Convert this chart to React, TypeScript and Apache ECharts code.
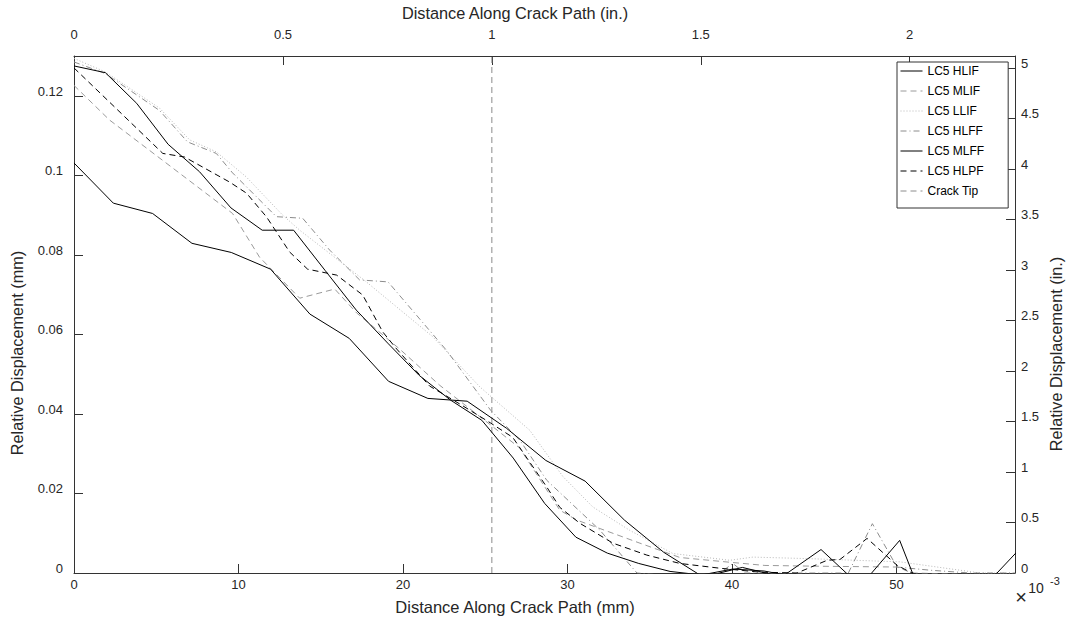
import React, { useEffect, useRef } from "react";
import * as echarts from "echarts";

// ---- Data (mm) ----
const xHLIF = [0, 1.91, 3.81, 5.72, 7.63, 9.54, 11.44, 13.35, 15.26, 17.16, 19.07, 20.98, 22.88, 24.79, 26.7, 28.61, 30.51, 32.42, 34.33, 36.23, 38.14, 40.05, 41.95, 43.86, 45.77, 47.68, 49.58, 51.49, 53.4, 55.3, 57.21];
const yHLIF = [0.1275, 0.1258, 0.1181, 0.1078, 0.1009, 0.0918, 0.0862, 0.0862, 0.0761, 0.0661, 0.0578, 0.0497, 0.0435, 0.0384, 0.0289, 0.0175, 0.009, 0.005, 0.0024, 0.0004, -0.0005, 0.001, 0.0005, -0.001, -0.002, -0.001, -0.0015, -0.001, -0.002, -0.003, -0.002];

const xMLFF = [0, 2.39, 4.78, 7.17, 9.56, 11.95, 14.34, 16.73, 19.12, 21.51, 23.9, 26.29, 28.68, 31.07, 33.46, 35.85, 38.24, 40.63, 43.02, 45.41, 47.8, 50.19, 52.58, 54.97, 57.36];
const yMLFF = [0.1031, 0.093, 0.0904, 0.0829, 0.0806, 0.0764, 0.0651, 0.059, 0.0482, 0.0439, 0.0432, 0.0364, 0.0283, 0.0231, 0.0133, 0.0052, -0.001, 0.0014, -0.001, 0.0059, -0.0033, 0.0082, -0.017, -0.005, 0.0055];

const xHLPF = [0, 5.4, 6.72, 9.46, 10.49, 11.71, 13.11, 14.2, 15.97, 17.55, 18.77, 19.62, 21.62, 23.45, 25.33, 26.67, 28.74, 29.53, 30.75, 32.76, 34.82, 36.83, 39.26, 41.7, 43.95, 45.78, 46.56, 48.21, 50.04, 50.94, 53.25, 57.2];
const yHLPF = [0.127, 0.1055, 0.1046, 0.0983, 0.0955, 0.0895, 0.0807, 0.0764, 0.0749, 0.0699, 0.0606, 0.0563, 0.047, 0.0425, 0.0377, 0.0341, 0.0216, 0.0165, 0.0125, 0.0075, 0.0045, 0.0024, 0.0012, 0.0002, 0, 0.0032, 0.0034, 0.0087, 0.0019, 0, -0.002, -0.002];

const xMLIF = [0, 2.16, 9.64, 11.28, 13.72, 15.85, 17.18, 19.8, 22.23, 25.33, 27.1, 29.53, 30.57, 34.4, 36.83, 39.87, 42.0, 45.35, 50.04, 50.94, 57.2];
const yMLIF = [0.1226, 0.1139, 0.0904, 0.0794, 0.0691, 0.0714, 0.0654, 0.0563, 0.0472, 0.0372, 0.0314, 0.0158, 0.0133, 0.0075, 0.0039, 0.0027, 0.0019, 0.0017, 0.0015, 0, -0.0006];

const xLLIF = [0, 1.9, 5.2, 7.03, 8.65, 10.47, 12.68, 13.72, 17.77, 21.81, 24.67, 27.7, 29.73, 31.54, 33.79, 36.4, 39.87, 41.27, 44.74, 50.21, 55.08, 57.2];
const yLLIF = [0.1294, 0.126, 0.1169, 0.1089, 0.1059, 0.0996, 0.09, 0.0862, 0.0732, 0.0594, 0.0468, 0.0359, 0.0242, 0.0166, 0.0107, 0.0049, 0.0032, 0.004, 0.0036, 0.0028, 0, 0];

const xHLFF = [0, 1.9, 5.2, 6.9, 8.65, 9.64, 12.3, 13.9, 15.54, 17.36, 19.09, 22.64, 25.33, 27.1, 28.74, 31.96, 34.22, 38.05, 39.26, 40.05, 40.78, 47.07, 48.53, 50.03, 52.04, 54.47, 57.2];
const yHLFF = [0.1285, 0.1256, 0.1163, 0.1084, 0.1055, 0.1006, 0.0896, 0.0892, 0.0812, 0.0737, 0.0732, 0.056, 0.0409, 0.0334, 0.0233, 0.0108, 0, -0.0013, 0, 0.0024, 0, 0, 0.0124, 0.0015, 0.0007, 0, 0];

const crackTipX = [25.4, 25.4];
const crackTipY = [0, 0.13];

const seriesNames = ["LC5 HLIF", "LC5 MLIF", "LC5 LLIF", "LC5 HLFF", "LC5 MLFF", "LC5 HLPF", "Crack Tip"];

const X_MAX_MM = 57.2;
const Y_MAX_MM = 0.13;
const MM_PER_IN = 25.4;

const FONT = "'Liberation Sans', Arial, sans-serif";

const pairs = (xs: number[], ys: number[]) => xs.map((x, i) => [x, ys[i]]);

export default function App() {
  const ref = useRef<HTMLDivElement>(null);
  useEffect(() => {
    if (!ref.current) return;
    const chart = echarts.init(ref.current, null, { renderer: "svg" });
    const axisLineColor = "#333";
    const labelStyle = { color: "#262626", fontSize: 13, fontFamily: FONT };
    const mkLine = (name: string, xs: number[], ys: number[], color: string, type: any, z = 2) => ({
      name,
      type: "line",
      data: pairs(xs, ys),
      symbol: "none",
      showSymbol: false,
      clip: true,
      z,
      lineStyle: { color, width: 1, type },
      itemStyle: { color },
      emphasis: { disabled: true },
    });
    chart.setOption({
      animation: false,
      backgroundColor: "#fff",
      grid: { left: 74, top: 56, width: 941, height: 517, containLabel: false },
      legend: {
        orient: "vertical",
        left: 897,
        top: 62,
        data: seriesNames,
        itemWidth: 22,
        itemHeight: 12,
        itemGap: 8,
        padding: [3, 24, 11, 3],
        borderColor: "#333",
        borderWidth: 1,
        backgroundColor: "#fff",
        itemStyle: { opacity: 0 },
        lineStyle: { width: 1 },
        textStyle: { color: "#000", fontSize: 12, fontFamily: FONT },
        selectedMode: false,
      },
      xAxis: [
        {
          type: "value",
          position: "bottom",
          min: 0,
          max: X_MAX_MM,
          interval: 10,
          axisLine: { show: true, onZero: false, lineStyle: { color: axisLineColor, width: 1 } },
          axisTick: { show: true, inside: true, length: 9, lineStyle: { color: axisLineColor } },
          axisLabel: { ...labelStyle, margin: 5, showMaxLabel: false, formatter: (v: number) => (Math.abs(v / 10 - Math.round(v / 10)) < 1e-6 ? String(Math.round(v)) : "") },
          splitLine: { show: false },
        },
        {
          type: "value",
          position: "top",
          min: 0,
          max: X_MAX_MM / MM_PER_IN,
          interval: 0.5,
          axisLine: { show: true, onZero: false, lineStyle: { color: axisLineColor, width: 1 } },
          axisTick: { show: true, inside: true, length: 9, lineStyle: { color: axisLineColor } },
          axisLabel: { ...labelStyle, margin: 15, showMaxLabel: false, formatter: (v: number) => (Math.abs(v * 2 - Math.round(v * 2)) < 1e-6 ? String(Math.round(v * 2) / 2) : "") },
          splitLine: { show: false },
        },
      ],
      yAxis: [
        {
          type: "value",
          position: "left",
          min: 0,
          max: Y_MAX_MM,
          interval: 0.02,
          axisLine: { show: true, onZero: false, lineStyle: { color: axisLineColor, width: 1 } },
          axisTick: { show: true, inside: true, length: 9, lineStyle: { color: axisLineColor } },
          axisLabel: { ...labelStyle, margin: 11, verticalAlign: "bottom", lineHeight: 9, showMaxLabel: false, formatter: (v: number) => { const k = Math.round(v / 0.02); return Math.abs(v / 0.02 - k) < 1e-6 ? String(+(k * 0.02).toFixed(2)) : ""; } },
          splitLine: { show: false },
        },
        {
          type: "value",
          position: "right",
          min: 0,
          max: (Y_MAX_MM / MM_PER_IN) * 1000,
          interval: 0.5,
          axisLine: { show: true, onZero: false, lineStyle: { color: axisLineColor, width: 1 } },
          axisTick: { show: true, inside: true, length: 9, lineStyle: { color: axisLineColor } },
          axisLabel: { ...labelStyle, margin: 6, verticalAlign: "bottom", lineHeight: 9, showMaxLabel: false, formatter: (v: number) => { const k = Math.round(v * 2); return Math.abs(v * 2 - k) < 1e-6 ? String(k / 2) : ""; } },
          splitLine: { show: false },
        },
      ],
      series: [
        mkLine(seriesNames[0], xHLIF, yHLIF, "#000", "solid", 5),
        mkLine(seriesNames[1], xMLIF, yMLIF, "#9a9a9a", [6, 4], 3),
        mkLine(seriesNames[2], xLLIF, yLLIF, "#b8b8b8", [1, 2], 2),
        mkLine(seriesNames[3], xHLFF, yHLFF, "#8c8c8c", [6, 3, 1, 3], 3),
        mkLine(seriesNames[4], xMLFF, yMLFF, "#000", "solid", 5),
        mkLine(seriesNames[5], xHLPF, yHLPF, "#000", [6, 4], 4),
        mkLine(seriesNames[6], crackTipX, crackTipY, "#8c8c8c", [6, 4], 1),
      ],
      graphic: [
        { type: "text", x: 515, y: 13, style: { text: "Distance Along Crack Path (in.)", font: `16.3px ${FONT}`, fill: "#262626", textAlign: "center", textVerticalAlign: "middle" } },
        { type: "text", x: 515, y: 607, style: { text: "Distance Along Crack Path (mm)", font: `16.5px ${FONT}`, fill: "#262626", textAlign: "center", textVerticalAlign: "middle" } },
        { type: "text", x: 17, y: 353, rotation: Math.PI / 2, style: { text: "Relative Displacement (mm)", font: `16.3px ${FONT}`, fill: "#262626", textAlign: "center", textVerticalAlign: "middle" } },
        { type: "text", x: 1056, y: 354, rotation: Math.PI / 2, style: { text: "Relative Displacement (in.)", font: `16.3px ${FONT}`, fill: "#262626", textAlign: "center", textVerticalAlign: "middle" } },
        { type: "text", x: 1021, y: 597, style: { text: "×", font: `20px ${FONT}`, fill: "#262626", textAlign: "center", textVerticalAlign: "middle" } },
        { type: "text", x: 1036, y: 588, style: { text: "10", font: `14px ${FONT}`, fill: "#262626", textAlign: "center", textVerticalAlign: "middle" } },
        { type: "text", x: 1055, y: 581, style: { text: "-3", font: `11px ${FONT}`, fill: "#262626", textAlign: "center", textVerticalAlign: "middle" } },
      ],
    });
    return () => chart.dispose();
  }, []);
  return <div ref={ref} style={{ position: "fixed", left: 0, top: 0, width: 1066, height: 622, background: "#fff" }} />;
}
